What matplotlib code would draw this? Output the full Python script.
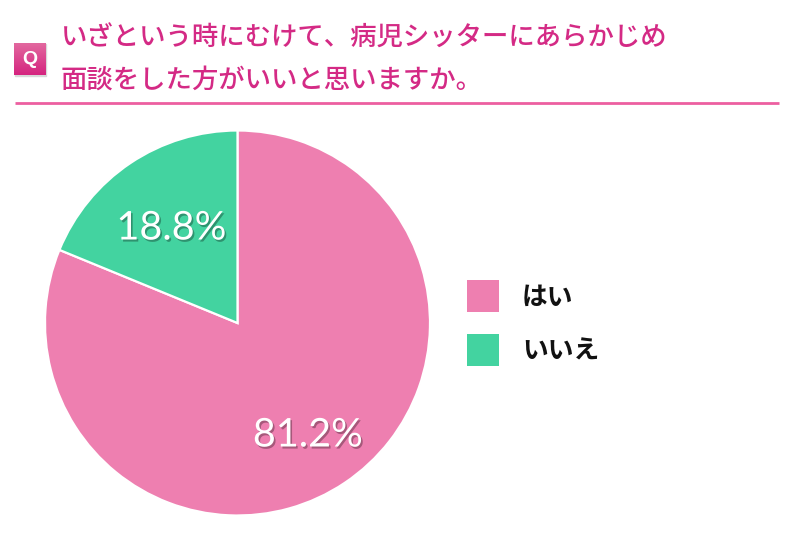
import matplotlib
matplotlib.use('Agg')
import matplotlib.pyplot as plt
import matplotlib.patheffects as pe
import numpy as np
from matplotlib.patches import Rectangle

plt.rcParams['font.family'] = ['Noto Sans CJK JP', 'DejaVu Sans']

categories = ['はい', 'いいえ']
values = [81.2, 18.8]
pct_labels = ['81.2%', '18.8%']
colors = ['#ee7fb0', '#43d3a0']
title_lines = ['いざという時にむけて、病児シッターにあらかじめ', '面談をした方がいいと思いますか。']

W, H = 800, 558
fig = plt.figure(figsize=(W / 100, H / 100), dpi=100)

# full-figure layer in pixel coordinates, y pointing down
bg = fig.add_axes([0, 0, 1, 1])
bg.set_xlim(0, W)
bg.set_ylim(H, 0)
bg.axis('off')

# Q badge with a vertical gradient and soft shadow
bg.add_patch(Rectangle((15, 44), 31, 32, color='#d8d8d8', zorder=1))
grad = np.linspace(0, 1, 64).reshape(-1, 1)
top = np.array(matplotlib.colors.to_rgb('#e2689f'))
bottom = np.array(matplotlib.colors.to_rgb('#d5247f'))
img = top + (bottom - top) * grad[..., None]
bg.imshow(img, extent=(14, 46, 75, 43), aspect='auto', zorder=2)
bg.set_xlim(0, W)
bg.set_ylim(H, 0)
bg.text(30, 60, 'Q', color='white', fontsize=14, fontweight='bold',
        ha='center', va='center', family='Liberation Sans', zorder=3)

for y, line in zip([38, 80], title_lines):
    bg.text(61, y, line, color='#d42a85', fontsize=19, fontweight='medium',
            ha='left', va='center')

bg.plot([15, 779], [103, 103], color='#ec5fa0', lw=2, solid_capstyle='butt')

# pie, centre (237.5, 323), radius 192
pie_ax = fig.add_axes([(237.5 - 195) / W, 1 - (323 + 195) / H, 390 / W, 390 / H])
pie_ax.pie(values, colors=colors, startangle=90, counterclock=False, radius=192.5,
           center=(0, 0), frame=True, wedgeprops={'edgecolor': 'white', 'linewidth': 1.6})
pie_ax.set_xlim(-195, 195)
pie_ax.set_ylim(-195, 195)
pie_ax.set_aspect('equal')
pie_ax.axis('off')

# percentage labels with an offset drop shadow
for (x, y), label in zip([(308, 435), (171.5, 228)], pct_labels):
    txt = fig.text(x / W, 1 - y / H, label, color='white', fontsize=28.5,
                   family='Lato', ha='center', va='center', zorder=10)
    txt.set_path_effects([pe.SimplePatchShadow(offset=(1.2, -1.5), shadow_rgbFace='black', alpha=0.3),
                          pe.Normal()])

# legend drawn by hand
for y, color, name in zip([296, 350], colors, categories):
    bg.add_patch(Rectangle((467, y - 16), 32, 32, facecolor=color, edgecolor='none'))
    bg.text(522, y + 1, name, color='#111111', fontsize=18.5, fontweight='bold',
            ha='left', va='center')

fig.savefig('out.png', dpi=100)
